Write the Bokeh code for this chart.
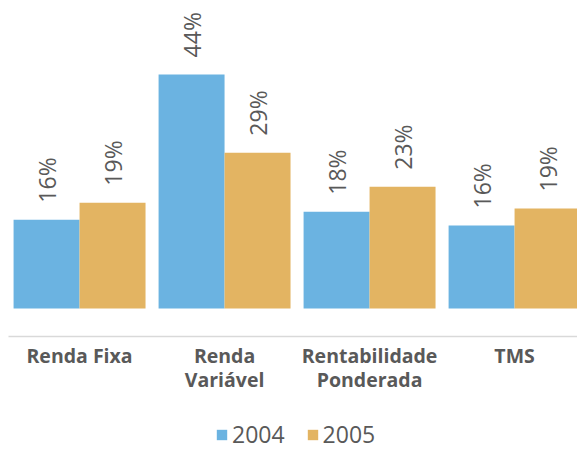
from math import pi
from bokeh.plotting import figure
from bokeh.layouts import column
from bokeh.models import Range1d, FixedTicker, ColumnDataSource, Legend, LegendItem
from bokeh.transform import dodge
from bokeh.core.properties import value
from bokeh.embed import file_html
from bokeh.resources import INLINE

# ---- data ----
categories = ["Renda Fixa", "Renda\nVariável", "Rentabilidade\nPonderada", "TMS"]
years = ["2004", "2005"]
values_2004 = [16.7, 44.0, 18.2, 15.6]
values_2005 = [19.9, 29.3, 22.9, 18.8]
labels_2004 = ["16%", "44%", "18%", "16%"]
labels_2005 = ["19%", "29%", "23%", "19%"]

# ---- styling ----
BLUE = "#6bb3e1"
GOLD = "#e3b462"
TEXT = "#595959"
FONT = "Open Sans"
PX_PER_UNIT = 5.32
LABEL_GAP = 17 / PX_PER_UNIT
BAR_W = 0.455

idx = list(range(len(categories)))
src = ColumnDataSource(dict(
    x=idx,
    v04=values_2004, v05=values_2005,
    l04=labels_2004, l05=labels_2005,
    t04=[v + LABEL_GAP for v in values_2004],
    t05=[v + LABEL_GAP for v in values_2005],
))

p = figure(width=577, height=400, output_backend="svg", toolbar_location=None,
           x_range=Range1d(-0.49, 3.434), y_range=Range1d(-5.26, 56.39),
           y_axis_location=None,
           min_border_left=8, min_border_right=0, min_border_top=8,
           min_border_bottom=64)
p.outline_line_color = None
p.grid.grid_line_color = None
p.background_fill_color = "white"
p.border_fill_color = "white"

r1 = p.vbar(x=dodge("x", -BAR_W / 2, range=p.x_range), top="v04", bottom=0,
            width=BAR_W, fill_color=BLUE, line_color=None, source=src)
r2 = p.vbar(x=dodge("x", BAR_W / 2, range=p.x_range), top="v05", bottom=0,
            width=BAR_W, fill_color=GOLD, line_color=None, source=src)

for off, ycol, lcol in [(-BAR_W / 2, "t04", "l04"), (BAR_W / 2, "t05", "l05")]:
    p.text(x=dodge("x", off, range=p.x_range), y=ycol, text=lcol, angle=pi / 2,
           text_align="left", text_baseline="middle",
           text_font=value(FONT), text_font_size="23px", text_color=TEXT,
           source=src)

ax = p.xaxis[0]
ax.ticker = FixedTicker(ticks=idx)
ax.major_label_overrides = {i: c for i, c in enumerate(categories)}
ax.axis_line_color = "#d9d9d9"
ax.axis_line_width = 1.5
ax.major_tick_line_color = None
ax.minor_tick_line_color = None
ax.major_tick_out = 0
ax.major_label_standoff = 5
ax.major_label_text_font = FONT
ax.major_label_text_font_style = "bold"
ax.major_label_text_font_size = "19.5px"
ax.major_label_text_line_height = 0.9
ax.major_label_text_color = TEXT

# ---- legend strip below the chart ----
# swatch renderers share the chart's data but are hidden; the legend still
# draws their glyphs (inactive overlay made fully transparent)
leg = figure(width=577, height=50, output_backend="svg", toolbar_location=None,
             x_range=Range1d(0, 1), y_range=Range1d(0, 1),
             x_axis_location=None, y_axis_location=None,
             min_border_left=0, min_border_right=0, min_border_top=0,
             min_border_bottom=0)
leg.outline_line_color = None
leg.grid.grid_line_color = None
k1 = leg.vbar(x="x", top="v04", width=BAR_W, fill_color=BLUE, line_color=None,
              source=src, visible=False)
k2 = leg.vbar(x="x", top="v05", width=BAR_W, fill_color=GOLD, line_color=None,
              source=src, visible=False)
legend = Legend(items=[LegendItem(label=years[0], renderers=[k1], index=0),
                       LegendItem(label=years[1], renderers=[k2], index=0)],
                location=(207, 0), orientation="horizontal",
                padding=0, margin=0, spacing=21, label_standoff=4,
                glyph_width=13, glyph_height=13, label_height=20,
                label_text_font=FONT, label_text_font_size="23px",
                label_text_color=TEXT, border_line_color=None,
                background_fill_alpha=0, inactive_fill_alpha=0)
leg.add_layout(legend, "center")

layout = column(p, leg, spacing=0)
open("out.html", "w").write(file_html(layout, INLINE))
